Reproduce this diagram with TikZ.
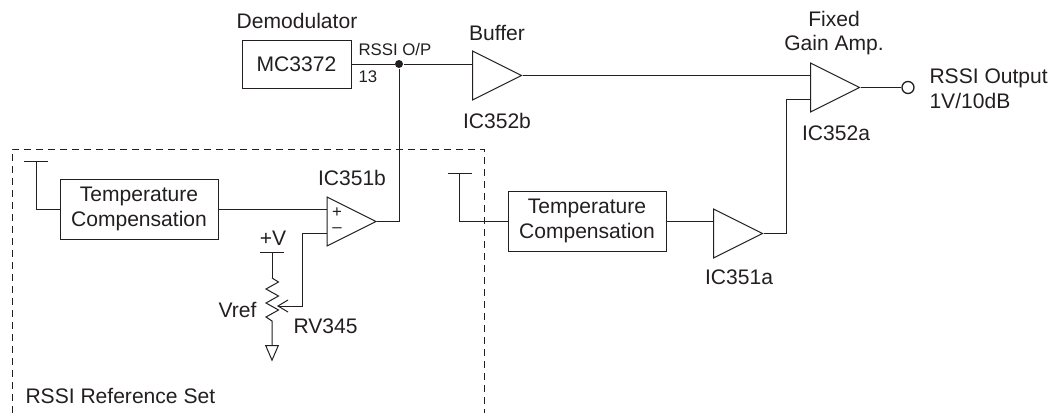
\documentclass[tikz,border=0pt]{standalone}
\usepackage{fontspec}
\setmainfont{Liberation Sans}
\usetikzlibrary{shapes.geometric,arrows.meta,positioning}
\definecolor{ink}{HTML}{231F20}
\tikzset{
amp/.style={
  isosceles triangle,
  isosceles triangle stretches,
  shape border rotate=0,
  draw,
  inner sep=0pt,
  minimum width=36.75pt,
  minimum height=36.75pt,
  anchor=lower side
  },
gnd/.style={
  isosceles triangle,
  isosceles triangle stretches,
  shape border rotate=-90,
  draw,
  inner sep=0pt,
  minimum width=9.5pt,
  minimum height=11pt,
  anchor=lower side
  },
blockbox/.style={
  rectangle,
  draw,
  inner sep=0pt,
  minimum width=118.5pt,
  minimum height=45pt,
  align=center,
  font=\fontsize{15.8}{18.5}\selectfont
  },
lbl/.style={
  inner sep=0pt,
  align=center,
  font=\fontsize{15.8}{18.2}\selectfont
  },
smalllbl/.style={
  inner sep=0pt,
  font=\fontsize{12.6}{15}\selectfont
  },
joint/.style={circle,fill,inner sep=0pt,minimum size=6pt},
terminal/.style={circle,draw,fill=white,inner sep=0pt,minimum size=9pt,line width=1pt}
}

\begin{document}
\begin{tikzpicture}[x=0.75pt,y=-0.75pt,color=ink,text=ink,line width=0.75pt,line join=miter]
\useasboundingbox (0,0) rectangle (1052,414);

% reference set frame
\coordinate (frameBL) at (12,413);
\coordinate (frameTL) at (12,149);
\coordinate (frameTR) at (484,149);
\coordinate (frameBR) at (484,413);
\draw[dash pattern=on 5.2pt off 3.8pt,line width=0.7pt] (frameBL) -- (frameTL) -- (frameTR) -- (frameBR);
\node[lbl,anchor=west] (setlbl) at (25,396) {RSSI Reference Set};

% demodulator and buffer
\node[rectangle,draw,inner sep=0pt,minimum width=81.75pt,minimum height=36pt,lbl] (demod) at (296.5,64) {MC3372};
\node[lbl] (demodlbl) at (297,21) {Demodulator};
\node[smalllbl,anchor=west] (rssiop) at (358,49) {RSSI O/P};
\node[smalllbl,anchor=west] (pin13) at (358,77) {13};
\node[joint] (j1) at (399,64) {};
\node[amp] (ic352b) at (472,75.5) {};
\node[lbl] (bufferlbl) at (497,33) {Buffer};
\node[lbl] (ic352blbl) at (497,121) {IC352b};

% fixed gain amp
\node[amp] (ic352a) at (810,87.5) {};
\node[lbl] (fixedlbl) at (834,33) {Fixed\\Gain Amp.};
\node[lbl] (ic352albl) at (836,133) {IC352a};
\node[terminal] (out) at (908,87.5) {};
\node[lbl,anchor=west,align=left] (outlbl) at (929,89) {RSSI Output\\[0.4pt]1V/10dB};
\coordinate (fgin2) at ([yshift=-9pt]ic352a.lower side);

% first compensation path
\node[blockbox] (temp1) at (139,209) {Temperature\\Compensation};
\coordinate (sup1) at (36,161);
\coordinate (sup1a) at (24,161);
\coordinate (sup1b) at (48,161);
\node[amp] (ic351b) at (326.5,221.5) {};
\node[lbl] (ic351blbl) at (352,178) {IC351b};
\coordinate (minusin) at ([yshift=-9pt]ic351b.lower side);
\node[smalllbl] (plus) at (337,212.5) {+};
\node[smalllbl] (minus) at (337,230.5) {–};

% second compensation path
\node[blockbox] (temp2) at (587,221) {Temperature\\Compensation};
\coordinate (sup2) at (459.5,173);
\coordinate (sup2a) at (447.5,173);
\coordinate (sup2b) at (471.5,173);
\node[amp] (ic351a) at (713,233.5) {};
\node[lbl] (ic351albl) at (739,277) {IC351a};

% pot
\coordinate (vbar) at (272,252);
\coordinate (vbara) at (260,252);
\coordinate (vbarb) at (284,252);
\coordinate (rtop) at (272,278);
\coordinate (rbot) at (272,321);
\coordinate (wiper) at (278,306);
\node[gnd] (ground) at (272,345) {};
\node[lbl] (vlbl) at (273,238) {+V};
\node[lbl,anchor=east] (vreflbl) at (257,310) {Vref};
\node[lbl,anchor=west] (rvlbl) at (293,326) {RV345};

% wires
\draw (demod.east |- j1) -- (j1) -- (j1 -| ic352b.lower side);
\draw (ic352b.apex) -- (ic352b.apex -| ic352a.lower side);
\draw (ic352a.apex) -- (out);
\draw (sup1a) -- (sup1b);
\draw (sup1) |- (temp1.west);
\draw (temp1.east) -- (temp1.east -| ic351b.lower side);
\draw (ic351b.apex) -| (j1);
\draw (sup2a) -- (sup2b);
\draw (sup2) |- (temp2.west);
\draw (temp2.east) -- (temp2.east -| ic351a.lower side);
\draw (ic351a.apex) -| (fgin2 -| 786,0) -- (fgin2);
\draw (vbara) -- (vbarb);
\draw (vbar) -- (rtop);
\draw (rtop) -- ++(6.5,4) -- ++(-12.5,7) -- ++(12.5,7) -- ++(-12.5,7) -- ++(12.5,7) -- ++(-12.5,7) -- (rbot) -- (ground.lower side);
\draw (minusin) -| (302,306) -- (wiper);
\draw (288,300) -- (wiper) -- (288,312);
\end{tikzpicture}
\end{document}
